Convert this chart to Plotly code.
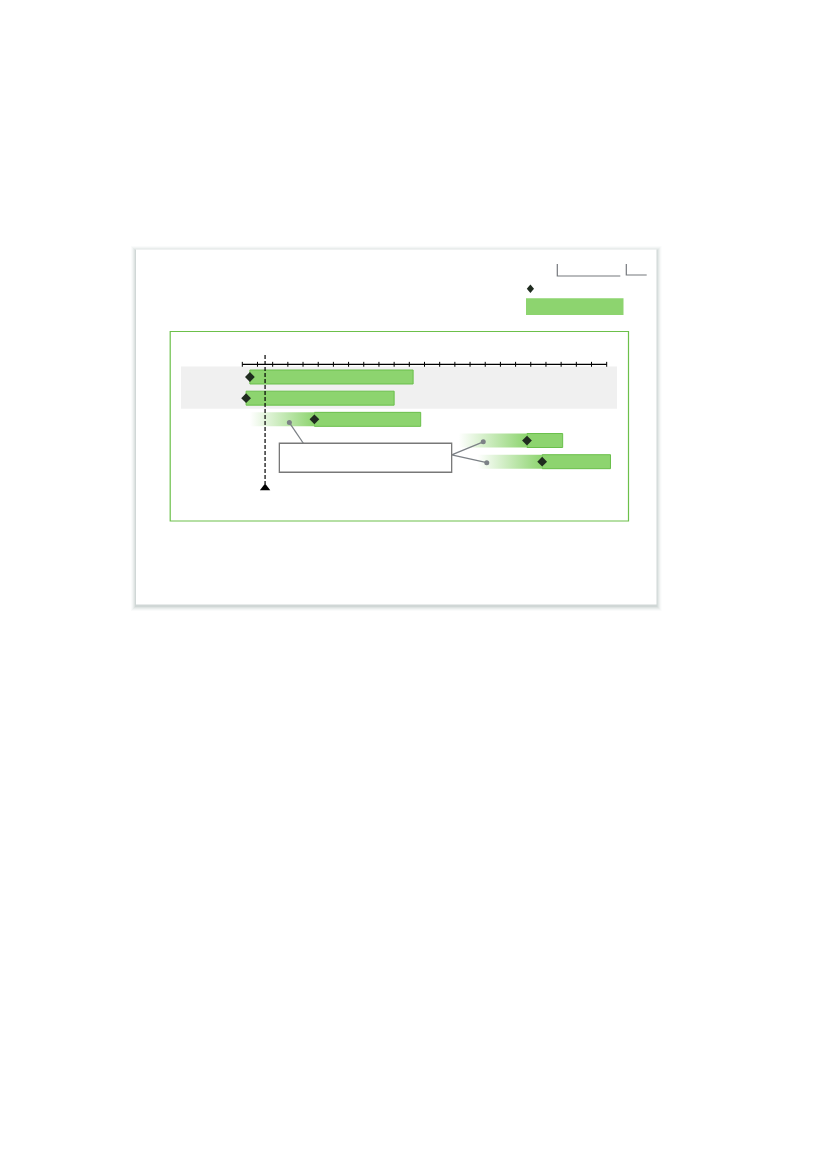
import plotly.graph_objects as go

# rows of the timeline (0 = top)
rows = [0, 1, 2, 3, 4]
bar_start = [0.5, 0.25, 4.75, 18.75, 19.75]
bar_end = [11.25, 10.0, 11.75, 21.1, 24.25]
milestone = [0.5, 0.25, 4.75, 18.75, 19.75]
fade_start = [None, None, 0.5, 14.25, 15.5]   # faded lead-in before the bar

# grey note dots and the note box they point to
note_dot_x = [3.1, 15.87, 16.1]
note_dot_row = [2.15, 3.06, 4.05]
note_box = dict(x0=2.44, x1=13.79, y0=3.13, y1=4.5)
note_anchor_top = (4.02, 3.13)
note_anchor_right = (13.79, 3.68)

ticks = list(range(25))
today = 1.5

GREEN = "#8dd46f"
GREEN_EDGE = "#6abf4b"
DARK = "#1f2b1f"
GREY = "#7c8186"

# page body has an 8px margin, so the figure is a bit smaller than the window
OFF = 8
W, H = 827 - OFF, 1169 - OFF


# pixel helpers (window pixels) for the decorative page elements
def px(x):
    return (x - OFF) / W


def py(y):
    return 1 - (y - OFF) / H


def rect(x0, y0, x1, y1, **kw):
    return dict(type="rect", xref="paper", yref="paper",
                x0=px(x0), x1=px(x1), y0=py(y1), y1=py(y0), **kw)


def path(pts, **kw):
    d = "M " + " L ".join(f"{px(a):.5f},{py(b):.5f}" for a, b in pts)
    return dict(type="path", xref="paper", yref="paper", path=d, **kw)


# axis placement: value 0 at 242.3px, 15.183px per unit; row 0 at 377px, 21.17px per row
X0, XU = 242.3, 15.183
Y0, YU = 377.0, 21.17
dom_x = (181, 617)
dom_y = (340, 500)
half = 0.33

fig = go.Figure()

# faded lead-ins
for r, fs, s in zip(rows, fade_start, bar_start):
    if fs is None:
        continue
    fig.add_trace(go.Scatter(
        x=[fs, s, s, fs, fs], y=[r - half, r - half, r + half, r + half, r - half],
        mode="lines", fill="toself", line=dict(width=0),
        fillgradient=dict(type="horizontal",
                          colorscale=[[0, "rgba(141,212,111,0)"], [1, "rgba(141,212,111,1)"]]),
        hoverinfo="skip", showlegend=False))

# bars
fig.add_trace(go.Bar(
    y=rows, base=bar_start, x=[e - s for s, e in zip(bar_start, bar_end)],
    orientation="h", width=2 * half,
    marker=dict(color=GREEN, line=dict(color=GREEN_EDGE, width=1)),
    showlegend=False))

# axis line with crossing ticks
axis_row = -0.6
fig.add_trace(go.Scatter(x=[ticks[0], ticks[-1]], y=[axis_row, axis_row], mode="lines",
                         line=dict(color="black", width=1.3), showlegend=False, hoverinfo="skip"))
fig.add_trace(go.Scatter(x=ticks, y=[axis_row] * len(ticks), mode="markers",
                         marker=dict(symbol="line-ns", size=3.5, line=dict(color="black", width=1)),
                         showlegend=False, hoverinfo="skip"))

# today line
fig.add_trace(go.Scatter(x=[today, today], y=[-1.04, 5.05], mode="lines",
                         line=dict(color="black", width=1.2, dash="4px,2px"),
                         showlegend=False, hoverinfo="skip"))
fig.add_trace(go.Scatter(x=[today], y=[5.24], mode="markers",
                         marker=dict(symbol="triangle-up", size=9, color="black"),
                         showlegend=False, hoverinfo="skip"))

# note connectors
ax, ay = note_anchor_top
fig.add_trace(go.Scatter(x=[note_dot_x[0], ax], y=[note_dot_row[0], ay], mode="lines",
                         line=dict(color=GREY, width=1.3), showlegend=False, hoverinfo="skip"))
bx, by = note_anchor_right
fig.add_trace(go.Scatter(x=[note_dot_x[1], bx, note_dot_x[2]],
                         y=[note_dot_row[1], by, note_dot_row[2]], mode="lines",
                         line=dict(color=GREY, width=1.3), showlegend=False, hoverinfo="skip"))
fig.add_trace(go.Scatter(x=note_dot_x, y=note_dot_row, mode="markers",
                         marker=dict(size=5, color=GREY), showlegend=False, hoverinfo="skip"))

# milestones
fig.add_trace(go.Scatter(x=milestone, y=rows, mode="markers",
                         marker=dict(symbol="diamond", size=7.5, color=DARK),
                         showlegend=False, hoverinfo="skip"))

shapes = []
# card with soft shadow, a little heavier at the bottom
for grow, alpha in [(5, 0.03), (4, 0.05), (3, 0.07), (2, 0.09), (1, 0.12)]:
    shapes.append(rect(136 - grow, 249.5 - grow + 1.5, 656.5 + grow, 604.5 + grow + 1.5,
                       fillcolor=f"rgba(110,135,128,{alpha})", line=dict(width=0), layer="below"))
shapes.append(rect(136, 249.5, 656.5, 604.5, fillcolor="white", line=dict(width=0), layer="below"))
# grey band behind first two rows
shapes.append(dict(type="rect", xref="x domain", yref="y", x0=0, x1=1, y0=-0.5, y1=1.5,
                   fillcolor="#f0f0f0", line=dict(width=0), layer="below"))
# green frame
shapes.append(rect(170.2, 331.5, 628.5, 521, line=dict(color="#6cc04a", width=1.2), layer="below"))
# note box
shapes.append(dict(type="rect", xref="x", yref="y", fillcolor="white",
                   line=dict(color="#787878", width=1.3), **note_box))
# legend
shapes.append(path([(530.4, 284.6), (534.0, 288.8), (530.4, 293.0), (526.8, 288.8), (530.4, 284.6)],
                   fillcolor=DARK, line=dict(width=0)))
shapes.append(rect(526, 298.2, 623.5, 315, fillcolor=GREEN, line=dict(width=0)))
# header brackets
shapes.append(path([(557.3, 264), (557.3, 276), (620.3, 276)], line=dict(color="#75787d", width=1.2)))
shapes.append(path([(626.3, 264), (626.3, 275), (646.7, 275)], line=dict(color="#75787d", width=1.2)))

fig.update_layout(
    width=W, height=H, margin=dict(l=0, r=0, t=0, b=0),
    paper_bgcolor="white", plot_bgcolor="rgba(0,0,0,0)",
    barmode="overlay", showlegend=False, shapes=shapes,
    xaxis=dict(visible=False, domain=[px(dom_x[0]), px(dom_x[1])],
               range=[(dom_x[0] - X0) / XU, (dom_x[1] - X0) / XU]),
    yaxis=dict(visible=False, domain=[py(dom_y[1]), py(dom_y[0])],
               range=[(dom_y[1] - Y0) / YU, (dom_y[0] - Y0) / YU]),
)

fig.write_html("out.html")
